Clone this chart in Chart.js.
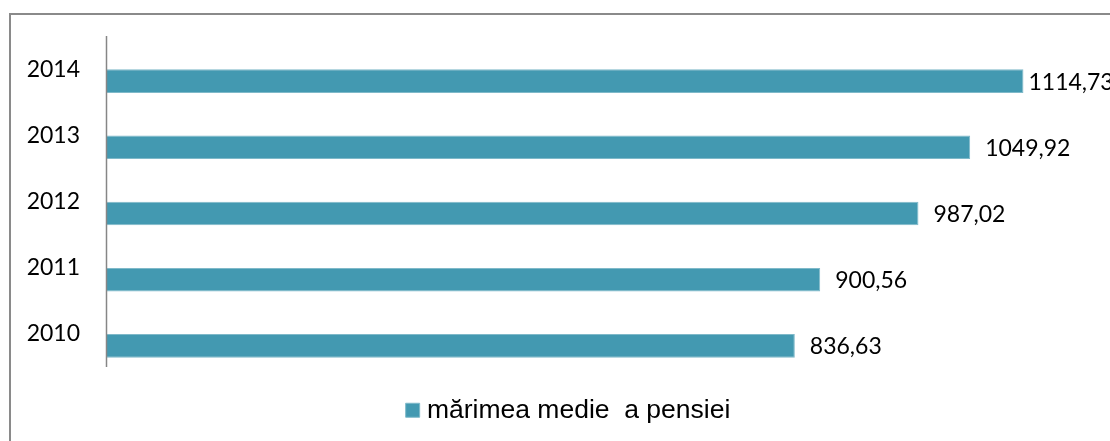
<!DOCTYPE html>
<html lang="ro">
<head>
  <meta charset="UTF-8">
  <title>Mărimea medie a pensiei</title>
  <script src="https://cdn.jsdelivr.net/npm/chart.js"></script>
  <style>
    html, body { margin: 0; padding: 0; background: #fff; }
    #wrap { position: relative; width: 1110px; height: 441px; }
  </style>
</head>
<body>
  <div id="wrap">
    <canvas id="myChart" width="1110" height="441"></canvas>
  </div>

  <script>
    // date
    const years = ['2014', '2013', '2012', '2011', '2010'];
    // lungimea barelor, asa cum apar in grafic (bara 2011 e mai scurta decat eticheta ei)
    const barValues = [1114.73, 1049.92, 987.02, 867.5, 836.63];
    // etichetele scrise in dreptul barelor
    const valueLabels = ['1114,73', '1049,92', '987,02', '900,56', '836,63'];
    const seriesLabel = 'mărimea medie  a pensiei';

    const barColor = '#4399b1';

    // rama gri (doar sus si stanga se vad) + linia axei
    const framePlugin = {
      id: 'frame',
      beforeDraw(chart) {
        const ctx = chart.ctx;
        ctx.save();
        ctx.strokeStyle = '#8a8a8a';
        ctx.lineWidth = 2;
        ctx.beginPath();
        ctx.moveTo(10, 441);
        ctx.lineTo(10, 14);
        ctx.lineTo(1110, 14);
        ctx.stroke();
        ctx.restore();
      },
      afterDraw(chart) {
        const ctx = chart.ctx;
        const area = chart.chartArea;
        ctx.save();
        ctx.strokeStyle = '#868686';
        ctx.lineWidth = 1.5;
        ctx.beginPath();
        ctx.moveTo(area.left - 0.5, area.top - 12);
        ctx.lineTo(area.left - 0.5, area.bottom - 12);
        ctx.stroke();
        ctx.restore();
      }
    };

    // etichete cu valori la capatul barelor
    const valueLabelPlugin = {
      id: 'valueLabels',
      afterDatasetsDraw(chart) {
        const ctx = chart.ctx;
        const meta = chart.getDatasetMeta(0);
        ctx.save();
        ctx.font = '23px Lato';
        ctx.fillStyle = '#000';
        ctx.textBaseline = 'middle';
        meta.data.forEach((bar, i) => {
          const txt = valueLabels[i];
          const w = ctx.measureText(txt).width;
          let x = bar.x + 15;
          if (x + w > chart.width) x = bar.x + 5;
          ctx.fillText(txt, x, bar.y + 1);
        });
        ctx.restore();
      }
    };

    const ctx = document.getElementById('myChart').getContext('2d');
    const myChart = new Chart(ctx, {
      type: 'bar',
      data: {
        labels: years,
        datasets: [{
          label: seriesLabel,
          data: barValues,
          backgroundColor: barColor,
          borderColor: '#7fb9c9',
          borderWidth: 1,
          categoryPercentage: 1,
          barPercentage: 0.356
        }]
      },
      options: {
        responsive: false,
        maintainAspectRatio: false,
        animation: false,
        indexAxis: 'y',
        layout: {
          padding: { top: 48, left: 24, right: -8, bottom: 7.5 }
        },
        scales: {
          x: {
            display: false,
            min: 0,
            max: 1220
          },
          y: {
            grid: { display: false, drawTicks: false },
            border: { display: false },
            afterFit(scale) { scale.width = 83; },
            ticks: {
              padding: 27,
              labelOffset: -12,
              color: '#000',
              font: { family: 'Lato', size: 23 }
            }
          }
        },
        plugins: {
          legend: {
            position: 'bottom',
            labels: {
              usePointStyle: true,
              pointStyle: 'rect',
              boxWidth: 2,
              boxHeight: 14,
              padding: 18,
              color: '#000',
              font: { family: 'Liberation Sans', size: 26.5 }
            }
          },
          tooltip: { enabled: false }
        }
      },
      plugins: [framePlugin, valueLabelPlugin]
    });
  </script>
</body>
</html>
